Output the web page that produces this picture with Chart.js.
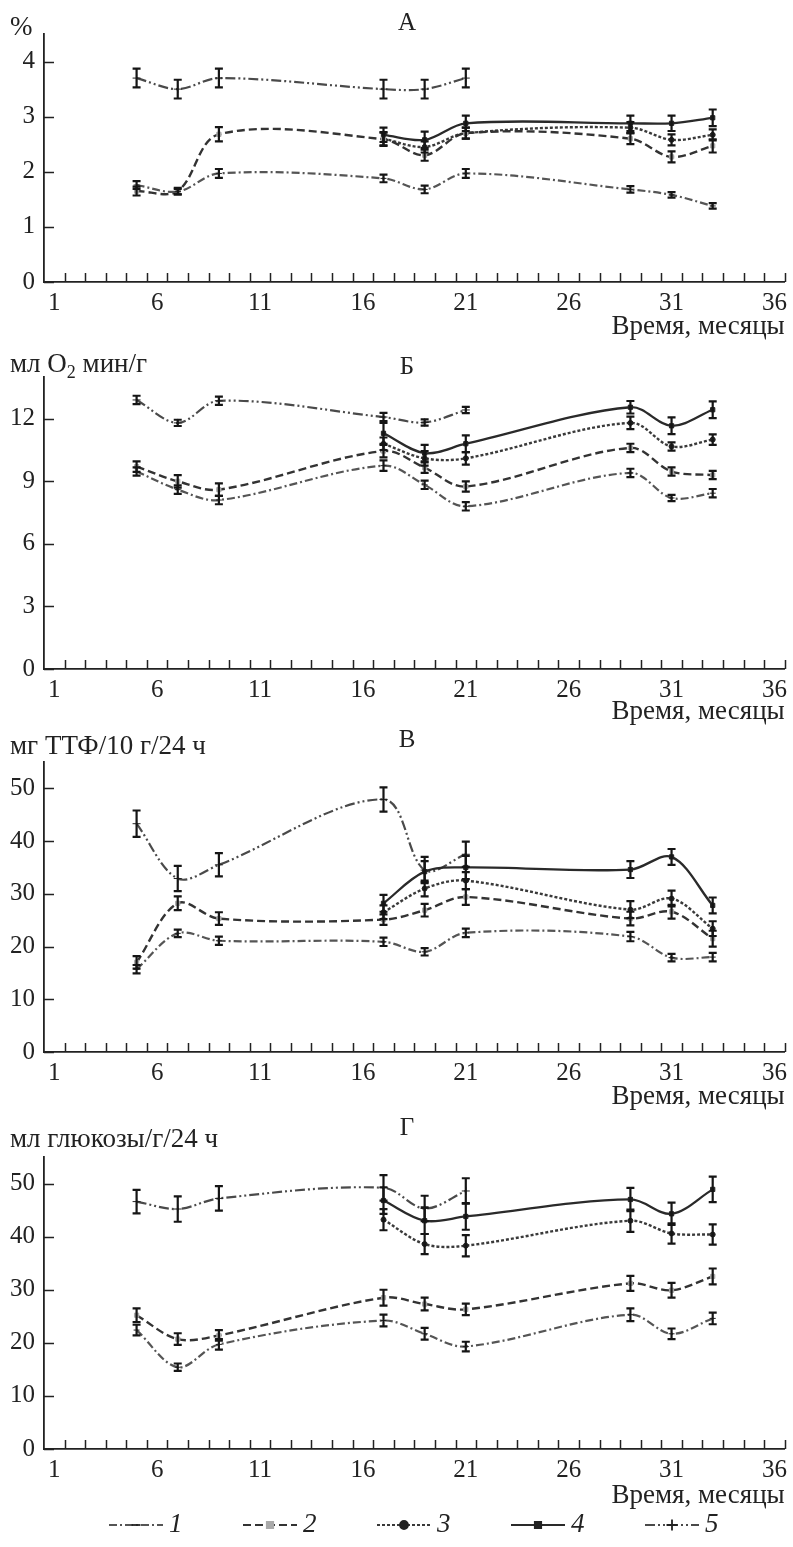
<!DOCTYPE html>
<html>
<head>
<meta charset="utf-8">
<script src="https://cdn.jsdelivr.net/npm/chart.js@4.4.0/dist/chart.umd.min.js"></script>
<style>
  body { margin: 0; background: #fff; }
  #wrap { position: relative; width: 793px; height: 1547px; }
  canvas { position: absolute; left: 0; }
</style>
</head>
<body>
<div id="wrap">
  <canvas id="chartA" width="793" height="340" style="top:0px"></canvas>
  <canvas id="chartB" width="793" height="385" style="top:340px"></canvas>
  <canvas id="chartC" width="793" height="385" style="top:725px"></canvas>
  <canvas id="chartD" width="793" height="437" style="top:1110px"></canvas>
</div>
<script>
// months where measurements were taken
const months = [5, 7, 9, 17, 19, 21, 29, 31, 33];
const xTickLabels = [1, 6, 11, 16, 21, 26, 31, 36];
const seriesNames = ['1', '2', '3', '4', '5'];

// A, %
const a1 = [1.76, 1.64, 1.97, 1.88, 1.68, 1.97, 1.68, 1.58, 1.38];
const a2 = [1.65, 1.65, 2.68, 2.59, 2.30, 2.70, 2.60, 2.27, 2.47];
const a3 = [null, null, null, 2.60, 2.45, 2.70, 2.80, 2.58, 2.67];
const a4 = [null, null, null, 2.67, 2.58, 2.88, 2.88, 2.88, 2.98];
const a5 = [3.70, 3.50, 3.70, 3.50, 3.50, 3.70, null, null, null];
const a1Err = [0.07, 0.05, 0.08, 0.07, 0.07, 0.08, 0.06, 0.05, 0.05];
const a2Err = [0.08, 0.06, 0.13, 0.12, 0.10, 0.10, 0.10, 0.10, 0.12];
const a3Err = [null, null, null, 0.12, 0.10, 0.10, 0.10, 0.10, 0.10];
const a4Err = [null, null, null, 0.13, 0.15, 0.14, 0.14, 0.14, 0.15];
const a5Err = [0.17, 0.17, 0.17, 0.17, 0.17, 0.17, null, null, null];
const aTicks = [0, 1, 2, 3, 4];

// Б, мл O2 мин/г
const b1 = [9.47, 8.60, 8.10, 9.75, 8.83, 7.80, 9.40, 8.20, 8.43];
const b2 = [9.70, 9.00, 8.60, 10.45, 9.65, 8.75, 10.60, 9.47, 9.30];
const b3 = [null, null, null, 10.80, 10.10, 10.10, 11.80, 10.67, 11.00];
const b4 = [null, null, null, 11.30, 10.35, 10.80, 12.55, 11.66, 12.43];
const b5 = [12.90, 11.80, 12.86, 12.08, 11.82, 12.42, null, null, null];
const b1Err = [0.2, 0.2, 0.2, 0.25, 0.2, 0.2, 0.2, 0.15, 0.2];
const b2Err = [0.25, 0.3, 0.3, 0.3, 0.25, 0.25, 0.2, 0.2, 0.2];
const b3Err = [null, null, null, 0.3, 0.35, 0.3, 0.3, 0.2, 0.25];
const b4Err = [null, null, null, 0.5, 0.4, 0.4, 0.3, 0.4, 0.4];
const b5Err = [0.2, 0.15, 0.2, 0.2, 0.15, 0.15, null, null, null];
const bTicks = [0, 3, 6, 9, 12];

// В, мг ТТФ/10 г/24 ч
const c1 = [15.7, 22.5, 21.1, 20.9, 19.0, 22.6, 21.9, 17.9, 18.0];
const c2 = [17.0, 28.2, 25.3, 25.1, 26.9, 29.4, 25.3, 26.6, 21.5];
const c3 = [null, null, null, 26.5, 31.0, 32.5, 27.0, 29.1, 23.4];
const c4 = [null, null, null, 28.2, 34.2, 35.0, 34.6, 37.0, 27.8];
const c5 = [43.3, 32.9, 35.5, 47.9, 34.5, 37.5, null, null, null];
const c1Err = [0.8, 0.7, 0.8, 0.8, 0.7, 0.8, 0.9, 0.7, 0.8];
const c2Err = [1.2, 1.3, 1.2, 1.0, 1.2, 1.5, 1.3, 1.3, 1.5];
const c3Err = [null, null, null, 1.3, 1.5, 1.6, 1.6, 1.5, 1.4];
const c4Err = [null, null, null, 1.6, 2.0, 2.2, 1.6, 1.5, 1.5];
const c5Err = [2.5, 2.4, 2.2, 2.3, 2.5, 2.4, null, null, null];
const cTicks = [0, 10, 20, 30, 40, 50];

// Г, мл глюкозы/г/24 ч
const d1 = [22.4, 15.4, 19.7, 24.2, 21.7, 19.3, 25.3, 21.7, 24.6];
const d2 = [25.2, 20.7, 21.4, 28.5, 27.3, 26.3, 31.2, 29.9, 32.5];
const d3 = [null, null, null, 43.2, 38.6, 38.3, 43.0, 40.6, 40.4];
const d4 = [null, null, null, 46.8, 43.0, 43.8, 47.0, 44.3, 48.9];
const d5 = [46.6, 45.2, 47.2, 49.2, 45.3, 48.6, null, null, null];
const d1Err = [1.0, 0.7, 1.0, 1.1, 1.1, 0.9, 1.2, 1.0, 1.1];
const d2Err = [1.3, 1.1, 1.0, 1.5, 1.2, 1.1, 1.4, 1.4, 1.5];
const d3Err = [null, null, null, 2.0, 1.9, 2.0, 2.1, 1.9, 1.9];
const d4Err = [null, null, null, 2.5, 2.5, 2.5, 2.2, 2.1, 2.4];
const d5Err = [2.2, 2.4, 2.3, 2.4, 2.4, 2.4, null, null, null];
const dTicks = [0, 10, 20, 30, 40, 50];

const FONT = '"Liberation Serif", "Times New Roman", serif';

const seriesStyle = [
  { color: '#555', dash: [8, 3, 2, 3], width: 2.2, point: 'line', fill: '#222', r: 3 },
  { color: '#333', dash: [8, 4], width: 2.4, point: 'rect', fill: '#aaa', r: 3 },
  { color: '#3a3a3a', dash: [3, 2], width: 2.4, point: 'circle', fill: '#222', r: 2.5 },
  { color: '#2a2a2a', dash: [], width: 2.3, point: 'rect', fill: '#222', r: 3 },
  { color: '#4a4a4a', dash: [10, 3, 2, 3, 2, 3], width: 2.2, point: 'cross', fill: '#222', r: 4 }
];

// error bars, drawn through the chart's scales
const errorBars = {
  id: 'errorBars',
  afterDatasetsDraw(chart) {
    const ctx = chart.ctx, xs = chart.scales.x, ys = chart.scales.y;
    ctx.save();
    ctx.strokeStyle = '#151515';
    ctx.lineWidth = 2.2;
    chart.data.datasets.forEach(ds => {
      ds.data.forEach(p => {
        if (p.e == null) return;
        const px = xs.getPixelForValue(p.x);
        const y1 = ys.getPixelForValue(p.y + p.e);
        const y2 = ys.getPixelForValue(p.y - p.e);
        ctx.beginPath();
        ctx.moveTo(px, y1); ctx.lineTo(px, y2);
        ctx.moveTo(px - 4, y1); ctx.lineTo(px + 4, y1);
        ctx.moveTo(px - 4, y2); ctx.lineTo(px + 4, y2);
        ctx.stroke();
      });
    });
    ctx.restore();
  }
};

// inward tick marks, like the printed figure
const innerTicks = {
  id: 'innerTicks',
  afterDraw(chart) {
    const ctx = chart.ctx, xs = chart.scales.x, ys = chart.scales.y;
    const axisY = ys.getPixelForValue(0);
    const left = chart.chartArea.left;
    ctx.save();
    ctx.strokeStyle = '#222';
    ctx.lineWidth = 1.5;
    ctx.beginPath();
    for (let m = 1.5; m <= 36.5; m++) {
      const px = Math.round(xs.getPixelForValue(m)) + 0.5;
      ctx.moveTo(px, axisY); ctx.lineTo(px, axisY - 9);
    }
    ys.ticks.forEach(t => {
      const py = Math.round(ys.getPixelForValue(t.value)) + 0.5;
      ctx.moveTo(left, py); ctx.lineTo(left + 10, py);
    });
    ctx.stroke();
    ctx.restore();
  }
};

// panel letter and unit label
const panelText = {
  id: 'panelText',
  afterDraw(chart, args, o) {
    const ctx = chart.ctx;
    ctx.save();
    ctx.fillStyle = '#222';
    ctx.textBaseline = 'middle';
    ctx.font = '25px ' + FONT;
    ctx.textAlign = 'center';
    ctx.fillText(o.letter, 407, o.letterY);
    ctx.textAlign = 'left';
    let x = o.unitX;
    const parts = o.unit.split('₂');
    parts.forEach((part, i) => {
      ctx.font = '27px ' + FONT;
      ctx.fillText(part, x, o.unitY);
      x += ctx.measureText(part).width;
      if (i < parts.length - 1) {
        ctx.font = '18px ' + FONT;
        ctx.fillText('2', x, o.unitY + 8);
        x += ctx.measureText('2').width;
      }
    });
    ctx.restore();
  }
};

// legend with line samples under the last panel
const lineLegend = {
  id: 'lineLegend',
  afterDraw(chart, args, o) {
    if (!o.show) return;
    const ctx = chart.ctx;
    ctx.save();
    chart.data.datasets.forEach((ds, i) => {
      const x1 = 109 + i * 134, x2 = x1 + 54, y = o.y;
      ctx.strokeStyle = ds.borderColor;
      ctx.lineWidth = 1.8;
      ctx.setLineDash(ds.borderDash);
      ctx.beginPath(); ctx.moveTo(x1, y); ctx.lineTo(x2, y); ctx.stroke();
      ctx.setLineDash([]);
      ctx.fillStyle = ds.pointBackgroundColor;
      ctx.strokeStyle = ds.pointBorderColor;
      Chart.helpers.drawPoint(ctx, {
        pointStyle: ds.pointStyle, radius: ds.pointRadius + 1.5, rotation: 0, borderWidth: 1.5
      }, (x1 + x2) / 2, y);
      ctx.fillStyle = '#222';
      ctx.font = 'italic 27px ' + FONT;
      ctx.textAlign = 'left';
      ctx.textBaseline = 'middle';
      ctx.fillText(ds.label, x2 + 6, y);
    });
    ctx.restore();
  }
};

function makePanel(p) {
  const datasets = p.series.map((vals, s) => {
    const st = seriesStyle[s];
    return {
      label: seriesNames[s],
      data: months.map((m, i) => ({ x: m, y: vals[i], e: p.errors[s][i] })).filter(pt => pt.y !== null),
      borderColor: st.color,
      borderWidth: st.width,
      borderDash: st.dash,
      pointStyle: st.point,
      pointRadius: st.r,
      pointBackgroundColor: st.fill,
      pointBorderColor: st.fill,
      pointBorderWidth: 1,
      tension: 0.34,
      fill: false
    };
  });

  new Chart(document.getElementById(p.id), {
    type: 'line',
    data: { datasets: datasets },
    plugins: [errorBars, innerTicks, panelText, lineLegend],
    options: {
      responsive: false,
      animation: false,
      devicePixelRatio: 1,
      layout: { padding: { top: p.padTop, right: 5, bottom: p.padBottom, left: 0 } },
      plugins: {
        legend: { display: false },
        tooltip: { enabled: false },
        panelText: { letter: p.letter, letterY: p.letterY, unit: p.unit, unitX: 10, unitY: p.unitY },
        lineLegend: { show: p.legend, y: p.legendY }
      },
      scales: {
        x: {
          type: 'linear',
          min: 0.5,
          max: 36.5,
          afterBuildTicks: sc => { sc.ticks = xTickLabels.map(v => ({ value: v })); },
          afterFit: sc => { sc.height = p.xHeight; },
          grid: { display: false, drawTicks: false },
          border: { display: true, color: '#222', width: 1.8 },
          ticks: { autoSkip: false, maxRotation: 0, padding: 6, color: '#222', font: { family: FONT, size: 25 } },
          title: {
            display: true, text: 'Время, месяцы', align: 'end', color: '#222',
            padding: { top: 0, bottom: 0 }, font: { family: FONT, size: 27, lineHeight: 1 }
          }
        },
        y: {
          min: 0,
          max: p.yMax,
          afterBuildTicks: sc => { sc.ticks = p.yTicks.map(v => ({ value: v })); },
          afterFit: sc => { sc.width = 44; },
          grid: { display: false, drawTicks: false },
          border: { display: true, color: '#222', width: 1.8 },
          ticks: { padding: 9, color: '#222', font: { family: FONT, size: 25 } }
        }
      }
    }
  });
}

makePanel({ id: 'chartA', series: [a1, a2, a3, a4, a5], errors: [a1Err, a2Err, a3Err, a4Err, a5Err],
  yMax: 4.5, yTicks: aTicks, padTop: 34, padBottom: 0, xHeight: 58,
  letter: 'А', letterY: 23, unit: '%', unitY: 28, legend: false });
makePanel({ id: 'chartB', series: [b1, b2, b3, b4, b5], errors: [b1Err, b2Err, b3Err, b4Err, b5Err],
  yMax: 14, yTicks: bTicks, padTop: 37, padBottom: 0, xHeight: 56,
  letter: 'Б', letterY: 27, unit: 'мл O₂ мин/г', unitY: 25, legend: false });
makePanel({ id: 'chartC', series: [c1, c2, c3, c4, c5], errors: [c1Err, c2Err, c3Err, c4Err, c5Err],
  yMax: 55, yTicks: cTicks, padTop: 37, padBottom: 0, xHeight: 58,
  letter: 'В', letterY: 15, unit: 'мг ТТФ/10 г/24 ч', unitY: 22, legend: false });
makePanel({ id: 'chartD', series: [d1, d2, d3, d4, d5], errors: [d1Err, d2Err, d3Err, d4Err, d5Err],
  yMax: 55, yTicks: dTicks, padTop: 47, padBottom: 38, xHeight: 60,
  letter: 'Г', letterY: 18, unit: 'мл глюкозы/г/24 ч', unitY: 30, legend: true, legendY: 415 });
</script>
</body>
</html>
